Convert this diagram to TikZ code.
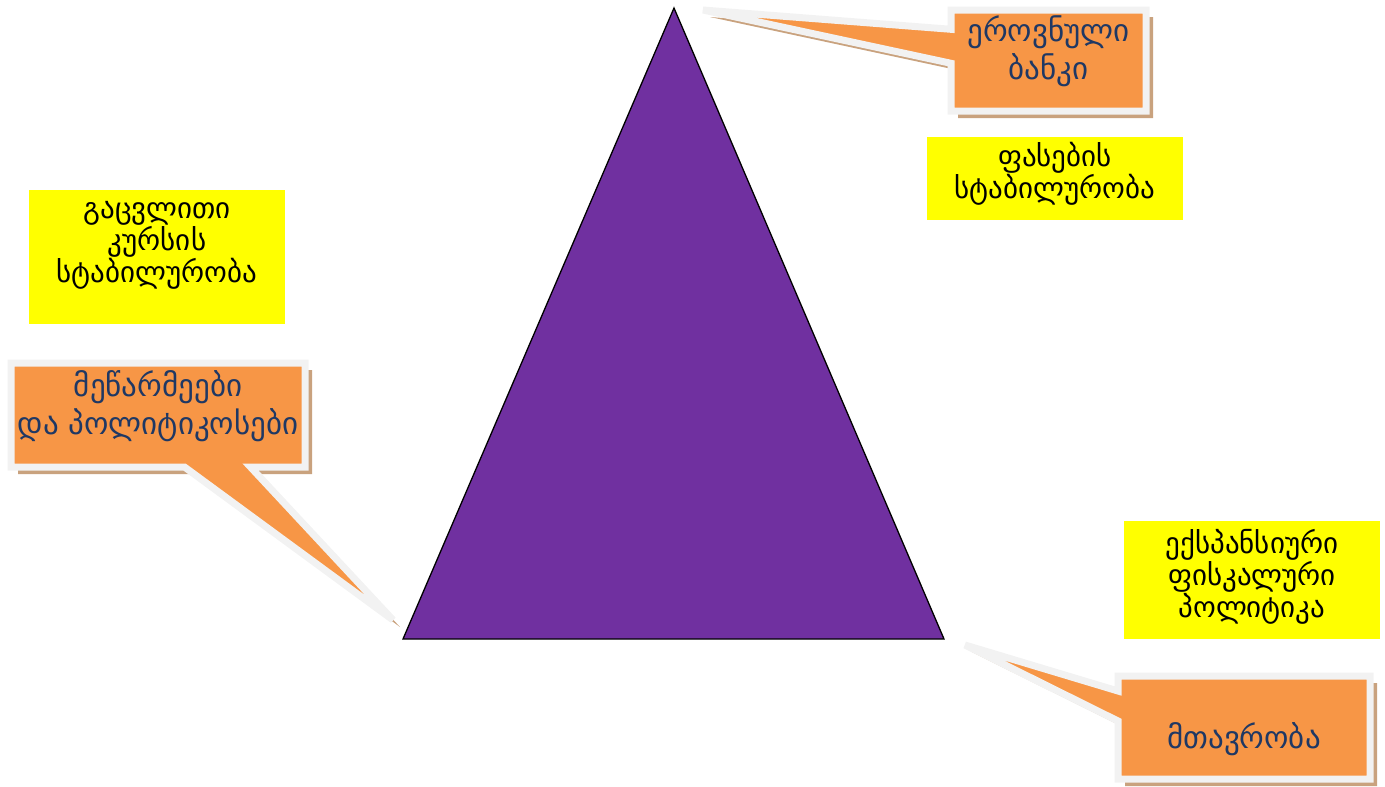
\documentclass[tikz,border=0pt]{standalone}
\usepackage{fontspec}
\newfontfamily\geo{DejaVu Sans}
\usetikzlibrary{shapes.callouts, shadows}
\definecolor{tripurple}{HTML}{7030A0}
\definecolor{callorange}{HTML}{F79646}
\definecolor{notenavy}{HTML}{1F3864}
\definecolor{noteyellow}{HTML}{FFFF00}
\definecolor{rimgrey}{HTML}{F2F2F2}
\definecolor{shadebrown}{HTML}{C9A27E}

\begin{document}
\begin{tikzpicture}[
    x=1pt, y=-1pt,
    every node/.style={font=\geo},
    note/.style={rectangle, fill=noteyellow, minimum width=256pt,
                 inner sep=0pt},
    notetext/.style={align=center, inner sep=0pt,
                     font=\geo\fontsize{29}{32}\selectfont},
    actor/.style={rectangle callout, fill=callorange, draw=rimgrey,
                  line width=7pt,
                  drop shadow={shadow xshift=7pt, shadow yshift=-7pt,
                               fill=shadebrown, opacity=1}},
    actortext/.style={align=center, inner sep=0pt, text=notenavy,
                      font=\geo\fontsize{31}{38}\selectfont}
  ]
    \useasboundingbox (0,0) rectangle (1385,787);

    % triangle
    \coordinate (apex) at (674,8);
    \coordinate (left) at (403,639);
    \coordinate (right) at (944,639);
    \draw[fill=tripurple, draw=black, line width=1.3pt]
      (apex) -- (left) -- (right) -- cycle;

    % callout tips
    \coordinate (banktip) at (703,10);
    \coordinate (firmtip) at (393,620);
    \coordinate (govtip) at (965,645);

    \node[actor, minimum width=195pt, minimum height=101pt,
          callout absolute pointer={(banktip)}, callout pointer width=34pt,
          label={[actortext, yshift=9pt]center:ეროვნული\\ბანკი}]
      (bank) at (1048.5,60.5) {};
    \node[actor, minimum width=294pt, minimum height=104pt,
          callout absolute pointer={(firmtip)}, callout pointer width=66pt,
          label={[actortext, yshift=9pt]center:მეწარმეები\\და პოლიტიკოსები}]
      (firms) at (158,415) {};
    \node[actor, minimum width=252pt, minimum height=103pt,
          callout absolute pointer={(govtip)}, callout pointer width=30pt,
          label={[actortext, yshift=-12pt]center:მთავრობა}]
      (gov) at (1244,727.5) {};

    % goals
    \node[note, minimum height=134pt,
          label={[notetext, yshift=12pt]center:გაცვლითი\\კურსის\\სტაბილურობა}]
      (rate) at (157,257) {};
    \node[note, minimum height=83pt,
          label={[notetext, yshift=5pt]center:ფასების\\სტაბილურობა}]
      (price) at (1055,178.5) {};
    \node[note, minimum height=118pt,
          label={[notetext, yshift=3pt]center:ექსპანსიური\\ფისკალური\\პოლიტიკა}]
      (fiscal) at (1252,580) {};
\end{tikzpicture}
\end{document}
